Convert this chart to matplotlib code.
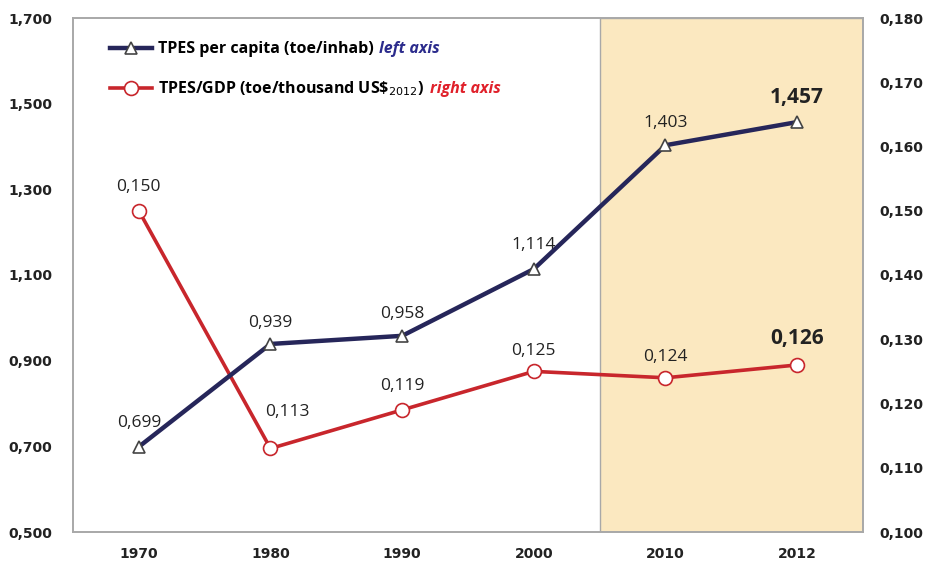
import numpy as np
import matplotlib.pyplot as plt

# Datos
anos = ['1970', '1980', '1990', '2000', '2010', '2012']
tpes_hab = [0.699, 0.939, 0.958, 1.114, 1.403, 1.457]
tpes_pib = [0.150, 0.113, 0.119, 0.125, 0.124, 0.126]
etiq_hab = ['0,699', '0,939', '0,958', '1,114', '1,403', '1,457']
etiq_pib = ['0,150', '0,113', '0,119', '0,125', '0,124', '0,126']
ticks_izq = [0.5, 0.7, 0.9, 1.1, 1.3, 1.5, 1.7]
ticks_der = [0.10, 0.11, 0.12, 0.13, 0.14, 0.15, 0.16, 0.17, 0.18]

azul = '#26265a'
rojo = '#c8262c'
gris = '#a8a8a8'

fig = plt.figure(figsize=(9.27, 5.76), dpi=100)
ax = fig.add_axes([73/927, 1-532/576, 790/927, 514/576])
ax2 = ax.twinx()

x = np.arange(len(anos))

# Zona sombreada 2010-2012
ax.axvspan(3.5, 5.5, facecolor='#fbe8c0', edgecolor=gris, lw=1, zorder=0)

# Linea por habitante (eje izquierdo), dibujada en ax2 con la escala de ax
lin1, = ax2.plot(x, tpes_hab, color=azul, lw=3.2, marker='^', ms=8.5,
                 mfc='white', mec='#444444', mew=1.2, transform=ax.transData, zorder=3,
                 label='TPES per capita (toe/inhab)')
lin2, = ax2.plot(x, tpes_pib, color=rojo, lw=2.6, marker='o', ms=10,
                 mfc='white', mec=rojo, mew=1.2, zorder=2,
                 label=r'TPES/GDP (toe/thousand US\$$_{2012}$)')

ax.set_xlim(-0.5, 5.5)
ax.set_ylim(0.5, 1.7)
ax2.set_ylim(0.10, 0.18)

# Etiquetas de valores
desp_hab = [(0, 17), (0, 15), (0, 16), (0, 17), (0, 16), (0, 18)]
desp_pib = [(0, 17), (12, 26), (0, 17), (0, 15), (0, 15), (0, 19)]
for i in range(len(anos)):
    negrita = 'bold' if i == len(anos) - 1 else 'normal'
    tam = 15 if i == len(anos) - 1 else 12.5
    ax.annotate(etiq_hab[i], (x[i], tpes_hab[i]), xytext=desp_hab[i],
                textcoords='offset points', ha='center', va='center',
                family='Open Sans', size=tam, weight=negrita, color='#222222')
    ax2.annotate(etiq_pib[i], (x[i], tpes_pib[i]), xytext=desp_pib[i],
                 textcoords='offset points', ha='center', va='center',
                 family='Open Sans', size=tam, weight=negrita, color='#222222')

# Ejes
ax.set_xticks(x)
ax.set_xticklabels(anos)
ax.set_yticks(ticks_izq)
ax.set_yticklabels([f'{v:.3f}'.replace('.', ',') for v in ticks_izq])
ax2.set_yticks(ticks_der)
ax2.set_yticklabels([f'{v:.3f}'.replace('.', ',') for v in ticks_der])
ax.tick_params(axis='y', length=0, pad=15, labelsize=10)
ax.tick_params(axis='x', length=0, pad=11, labelsize=10)
ax2.tick_params(axis='y', length=0, pad=12, labelsize=10)
for lab in ax.get_xticklabels() + ax.get_yticklabels() + ax2.get_yticklabels():
    lab.set_fontweight('bold')
    lab.set_color('#222222')
for a in (ax, ax2):
    for s in a.spines.values():
        s.set_color(gris)
        s.set_linewidth(1.2)

# Leyenda
leg = ax2.legend(handles=[lin1, lin2], loc='upper left', bbox_to_anchor=(0.047, 0.955),
                 frameon=False, borderaxespad=0, borderpad=0,
                 handlelength=2.6, handletextpad=0.4, labelspacing=1.4,
                 prop={'family': 'Open Sans', 'weight': 'bold', 'size': 11.5})
leg.set_zorder(5)
textos = leg.get_texts()
fig.canvas.draw()
ax2.annotate('left axis', xy=(1, 0.5), xycoords=textos[0], xytext=(4, 0),
             textcoords='offset points', va='center', ha='left', zorder=10,
             family='Open Sans', style='italic', weight='bold', size=11.5, color='#2b2b8c')
ax2.annotate('right axis', xy=(1, 0.5), xycoords=textos[1], xytext=(4, 0),
             textcoords='offset points', va='center', ha='left', zorder=10,
             family='Open Sans', style='italic', weight='bold', size=11.5, color='#e0202a')

fig.savefig('out.png', dpi=100)
